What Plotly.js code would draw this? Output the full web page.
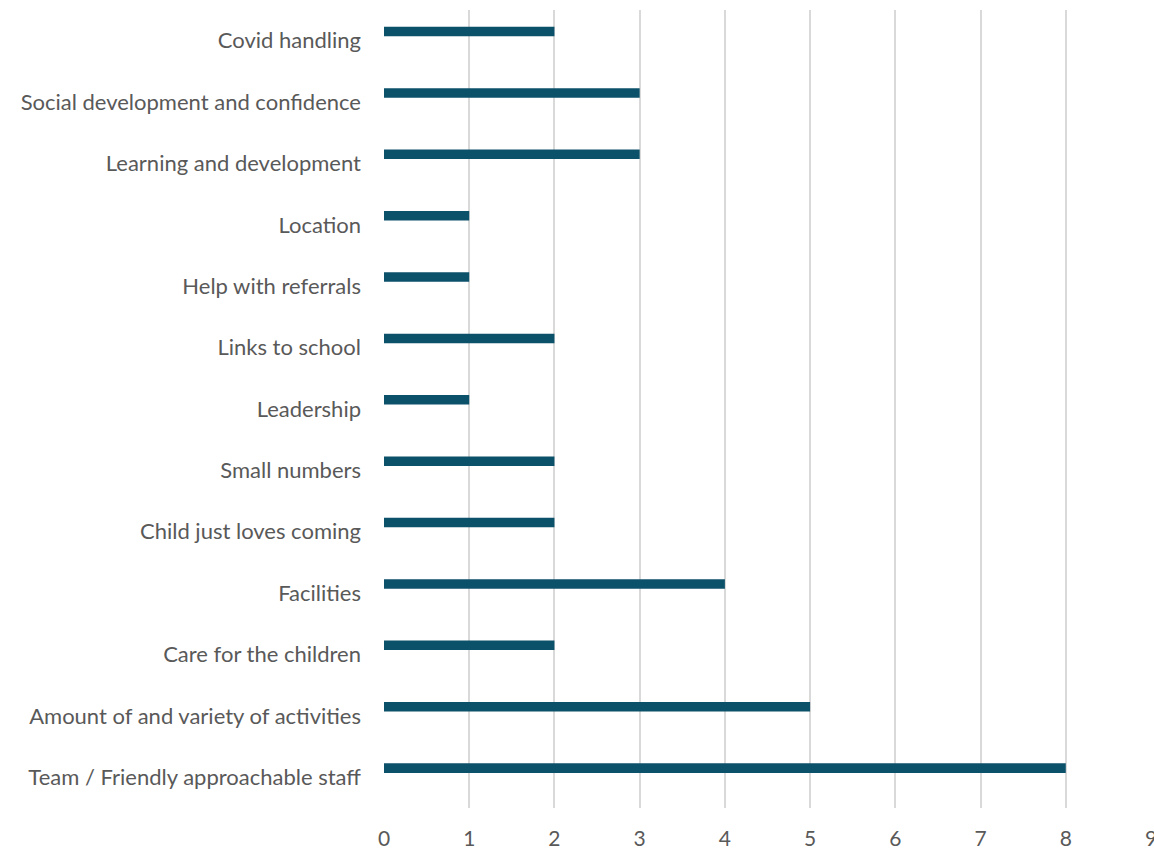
<!DOCTYPE html>
<html>
<head>
<meta charset="utf-8">
<script src="https://cdn.plot.ly/plotly-3.0.1.min.js"></script>
<style>html,body{margin:0;padding:0;background:#fff;}#chart{width:1154px;height:849px;}</style>
</head>
<body>
<div id="chart"></div>
<script>
const categories = [
  "Team / Friendly approachable staff",
  "Amount of and variety of activities",
  "Care for the children",
  "Facilities",
  "Child just loves coming",
  "Small numbers",
  "Leadership",
  "Links to school",
  "Help with referrals",
  "Location",
  "Learning and development",
  "Social development and confidence",
  "Covid handling"
];
const counts = [8, 5, 2, 4, 2, 2, 1, 2, 1, 1, 3, 3, 2];
const xTicks = [0, 1, 2, 3, 4, 5, 6, 7, 8, 9];

const trace = {
  type: 'bar',
  orientation: 'h',
  x: counts,
  y: categories,
  width: 0.155,
  offset: 0.072,
  marker: {color: '#0b5169'},
  hoverinfo: 'x+y'
};

const layout = {
  width: 1154,
  height: 849,
  margin: {l: 384, r: 3, t: 10, b: 41},
  paper_bgcolor: '#ffffff',
  plot_bgcolor: '#ffffff',
  showlegend: false,
  font: {family: 'Lato, "Open Sans", sans-serif', color: '#595959', size: 22},
  xaxis: {
    range: [0, 9],
    tickvals: xTicks,
    ticktext: xTicks.map(String),
    showgrid: true,
    gridcolor: '#d9d9d9',
    gridwidth: 2,
    zeroline: false,
    showline: false,
    ticks: '',
    ticklabelstandoff: 16,
    ticklabeloverflow: 'allow',
    tickfont: {size: 21, color: '#595959'}
  },
  yaxis: {
    type: 'category',
    categoryorder: 'array',
    categoryarray: categories,
    showgrid: false,
    zeroline: false,
    showline: false,
    ticks: '',
    ticklabelstandoff: 22,
    tickfont: {size: 22, color: '#595959'}
  }
};

Plotly.newPlot('chart', [trace], layout, {displayModeBar: false, staticPlot: true});
</script>
</body>
</html>
